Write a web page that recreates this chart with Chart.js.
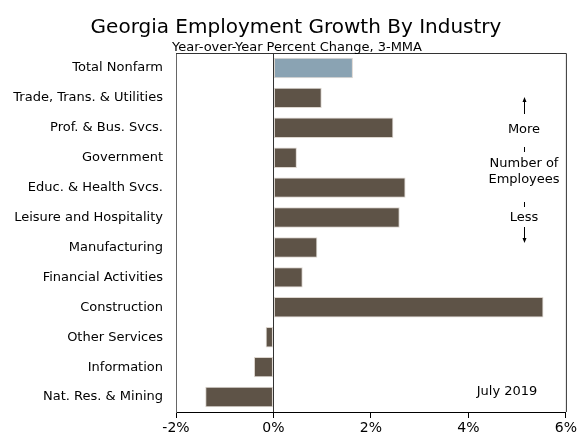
<!DOCTYPE html>
<html lang="en">
<head>
    <meta charset="UTF-8">
    <title>Georgia Employment Growth By Industry</title>
    <script src="https://cdn.jsdelivr.net/npm/chart.js"></script>
    <style>
        html, body { margin: 0; padding: 0; background: #fff; }
    </style>
</head>
<body>
    <canvas id="barChart" width="579" height="437"></canvas>

    <script>
        const industries = ["Total Nonfarm", "Trade, Trans. & Utilities", "Prof. & Bus. Svcs.", "Government",
            "Educ. & Health Svcs.", "Leisure and Hospitality", "Manufacturing", "Financial Activities",
            "Construction", "Other Services", "Information", "Nat. Res. & Mining"];
        const growth = [1.63, 0.99, 2.46, 0.48, 2.71, 2.59, 0.90, 0.60, 5.54, -0.16, -0.40, -1.40];
        const xTicks = [-2, 0, 2, 4, 6];

        const FONT = "'DejaVu Sans', Verdana, sans-serif";
        const barColors = industries.map((n, i) => i === 0 ? '#8aa3b3' : '#5e5347');

        // titles, plot frame and the side notes
        const decorations = {
            id: 'decorations',
            beforeDatasetsDraw(chart) {
                const { ctx, chartArea: a } = chart;
                ctx.save();
                ctx.strokeStyle = '#333';
                ctx.lineWidth = 1;
                ctx.beginPath();
                ctx.moveTo(a.left, a.top + 0.5);
                ctx.lineTo(a.right + 0.5, a.top + 0.5);
                ctx.lineTo(a.right + 0.5, a.bottom);
                ctx.stroke();
                ctx.restore();
            },
            afterDraw(chart) {
                const { ctx } = chart;
                ctx.save();
                ctx.fillStyle = '#000';
                ctx.textAlign = 'center';
                ctx.textBaseline = 'alphabetic';
                ctx.font = "20px " + FONT;
                ctx.fillText('Georgia Employment Growth By Industry', 296, 33);
                ctx.font = "13px " + FONT;
                ctx.fillText('Year-over-Year Percent Change, 3-MMA', 297, 51);

                const cx = 524;
                ctx.font = "13px " + FONT;
                ctx.textBaseline = 'middle';
                ctx.fillText('More', cx, 130);
                ctx.fillText('Number of', cx, 164);
                ctx.fillText('Employees', cx, 180);
                ctx.fillText('Less', cx, 218);
                ctx.fillText('July 2019', 507, 392);

                ctx.strokeStyle = '#000';
                ctx.lineWidth = 1;
                ctx.beginPath();
                ctx.moveTo(cx + 0.5, 100); ctx.lineTo(cx + 0.5, 114);
                ctx.moveTo(cx + 0.5, 147); ctx.lineTo(cx + 0.5, 152);
                ctx.moveTo(cx + 0.5, 202); ctx.lineTo(cx + 0.5, 207);
                ctx.moveTo(cx + 0.5, 227); ctx.lineTo(cx + 0.5, 240);
                ctx.stroke();
                ctx.beginPath();
                ctx.moveTo(cx + 0.5, 97); ctx.lineTo(cx - 1.5, 102); ctx.lineTo(cx + 2.5, 102); ctx.closePath();
                ctx.moveTo(cx + 0.5, 243); ctx.lineTo(cx - 1.5, 238); ctx.lineTo(cx + 2.5, 238); ctx.closePath();
                ctx.fill();
                ctx.restore();
            }
        };

        const ctx = document.getElementById('barChart').getContext('2d');
        new Chart(ctx, {
            type: 'bar',
            data: {
                labels: industries,
                datasets: [{
                    data: growth,
                    backgroundColor: barColors,
                    borderColor: '#ddd6cf',
                    borderWidth: 1,
                    borderSkipped: false,
                    categoryPercentage: 1,
                    barPercentage: 0.68
                }]
            },
            options: {
                indexAxis: 'y',
                responsive: false,
                animation: false,
                devicePixelRatio: 1,
                layout: { padding: { top: 53, right: 11, left: 0, bottom: 0 } },
                plugins: {
                    legend: { display: false },
                    tooltip: { enabled: false }
                },
                scales: {
                    x: {
                        min: -2,
                        max: 6,
                        afterBuildTicks: (s) => { s.ticks = xTicks.map(v => ({ value: v })); },
                        afterFit: (s) => { s.height = 25; },
                        ticks: {
                            color: '#000',
                            padding: 2,
                            maxRotation: 0,
                            autoSkip: false,
                            font: { family: FONT, size: 14 },
                            callback: (v) => v + '%'
                        },
                        grid: {
                            drawOnChartArea: true,
                            color: (c) => c.tick && c.tick.value === 0 ? '#333' : 'rgba(0,0,0,0)',
                            tickColor: '#000',
                            tickLength: 6
                        },
                        border: { display: true, color: '#000', width: 1 }
                    },
                    y: {
                        afterFit: (s) => { s.width = 176; },
                        ticks: {
                            color: '#000',
                            padding: 5,
                            autoSkip: false,
                            font: { family: FONT, size: 13 }
                        },
                        grid: { display: false },
                        border: { display: true, color: '#666', width: 1 }
                    }
                }
            },
            plugins: [decorations]
        });
    </script>
</body>
</html>
